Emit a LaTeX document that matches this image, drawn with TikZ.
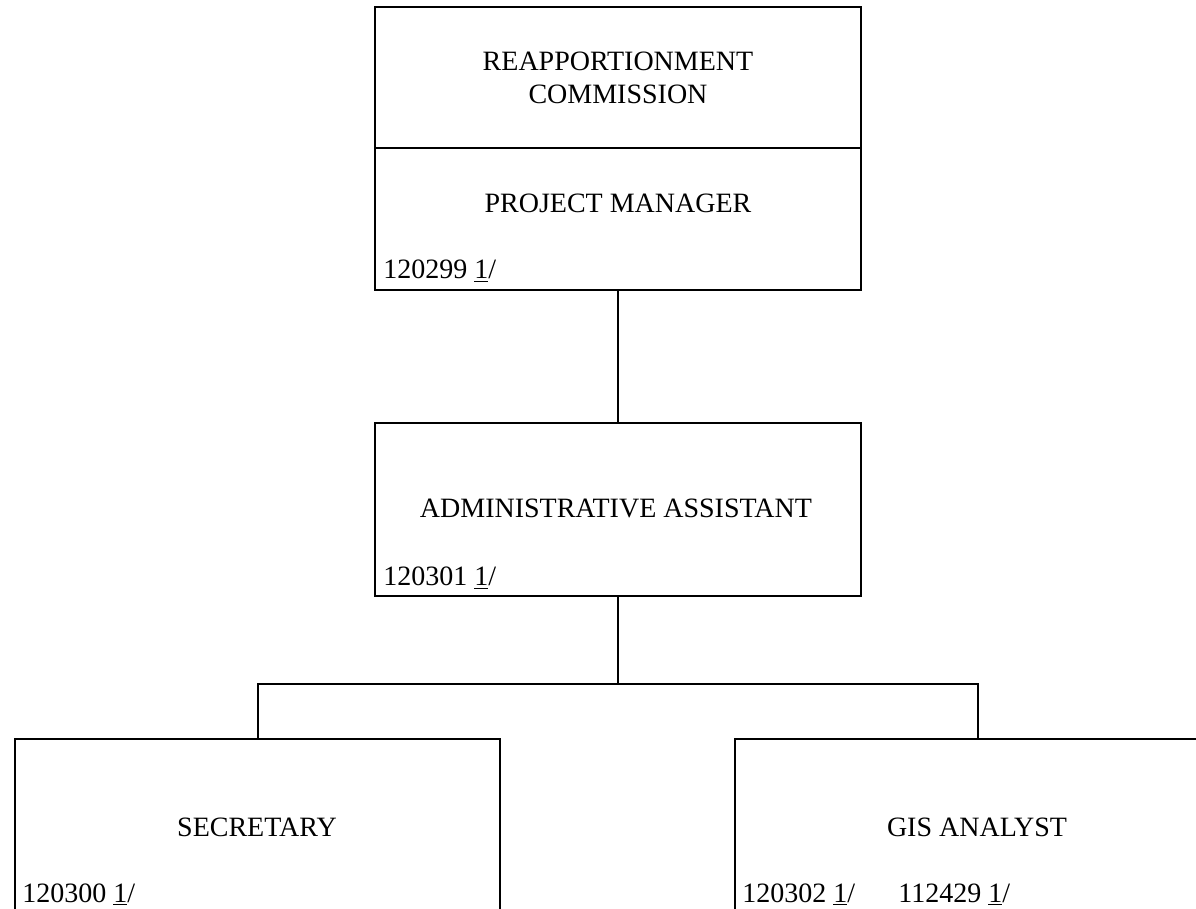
\documentclass[tikz,border=0pt]{standalone}
\usepackage{fontspec}
\setmainfont{Liberation Serif}
\usetikzlibrary{positioning}

\tikzset{
  posbox/.style={draw, black, line width=1pt, rectangle, inner sep=0pt},
  titletext/.style={font=\fontsize{14}{16.5}\selectfont, align=center, inner sep=0pt},
  codetext/.style={font=\fontsize{14}{16.5}\selectfont, anchor=base west, inner sep=0pt}
}

\begin{document}
\begin{tikzpicture}[x=0.5pt, y=-0.5pt]
    \useasboundingbox (0,0) rectangle (1196,909);
    \clip (0,0) rectangle (1196,909);

    % 1. Các ô chức vụ
    \node[posbox, minimum width=243pt, minimum height=70.5pt] (commission) at (618,77.5) {};
    \node[posbox, minimum width=243pt, minimum height=71pt] (manager) at (618,219) {};
    \node[posbox, minimum width=243pt, minimum height=86.5pt] (admin) at (618,509.5) {};
    \node[posbox, minimum width=242.5pt, minimum height=90.5pt] (secretary) at (257.5,829.5) {};
    \node[posbox, minimum width=242.5pt, minimum height=90.5pt] (gis) at (977.5,829.5) {};

    % 2. Tên chức vụ
    \node[titletext] (commissiontxt) at (618,78) {REAPPORTIONMENT\\COMMISSION};
    \node[titletext, anchor=base] (managertxt) at (618,213) {PROJECT MANAGER};
    \node[titletext, anchor=base] (admintxt) at (616,518) {ADMINISTRATIVE ASSISTANT};
    \node[titletext, anchor=base] (secretarytxt) at (257,836) {SECRETARY};
    \node[titletext, anchor=base] (gistxt) at (977,836) {GIS ANALYST};

    % 3. Mã số vị trí
    \node[codetext] (managercode) at (383,279) {120299 \underline{1}/};
    \node[codetext] (admincode) at (383,586) {120301 \underline{1}/};
    \node[codetext] (secretarycode) at (22,902) {120300 \underline{1}/};
    \node[codetext] (giscodea) at (742,902) {120302 \underline{1}/};
    \node[codetext] (giscodeb) at (898,902) {112429 \underline{1}/};

    % 4. Đường nối
    \coordinate (bus) at (618,684);
    \draw[line width=1pt] (manager.south) -- (admin.north);
    \draw[line width=1pt] (admin.south) -- (bus);
    \draw[line width=1pt] (secretary.north) |- (bus) -| (gis.north);

\end{tikzpicture}
\end{document}
